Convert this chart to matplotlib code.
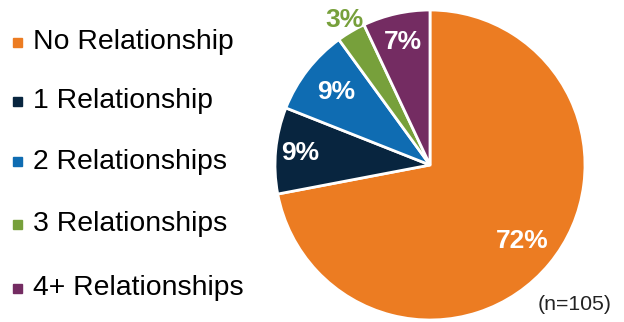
import numpy as np
import matplotlib
matplotlib.use("Agg")
import matplotlib.pyplot as plt

plt.rcParams["font.family"] = ["Liberation Sans", "DejaVu Sans"]

# ── Data ─────────────────────────────────────────────
categories = ["No Relationship", "1 Relationship", "2 Relationships",
              "3 Relationships", "4+ Relationships"]
shares     = [72, 9, 9, 3, 7]
colors     = ["#EC7C22", "#08253F", "#0F6CB2", "#77A03B", "#742C62"]
label_col  = ["white", "white", "white", "#77A03B", "white"]
label_rad  = [0.77, 0.84, 0.77, 1.09, 0.81]   # radial position of % labels
note       = "(n=105)"

W, H = 624, 322
fig = plt.figure(figsize=(W / 100, H / 100), dpi=100)

# pie axes: centre (430,165), radius 155 px
cx, cy, r = 430, 165, 155
ax = fig.add_axes([(cx - r) / W, (H - cy - r) / H, 2 * r / W, 2 * r / H])
wedges, _ = ax.pie(shares, colors=colors, startangle=90, counterclock=False,
                   radius=1, wedgeprops=dict(edgecolor="white", linewidth=2))
ax.set_xlim(-1, 1)
ax.set_ylim(-1, 1)
ax.axis("off")

for w, s, c, rr in zip(wedges, shares, label_col, label_rad):
    ang = np.deg2rad((w.theta1 + w.theta2) / 2)
    ax.text(rr * np.cos(ang), rr * np.sin(ang), f"{s}%", color=c,
            fontsize=19, fontweight="bold", ha="center", va="center")

# ── Legend (hand placed) ─────────────────────────────
row_y = [42, 101, 162, 224, 288]
for name, col, y in zip(categories, colors, row_y):
    fig.patches.append(plt.Rectangle((13 / W, 1 - (y + 4.5) / H), 9 / W, 9 / H,
                                     transform=fig.transFigure, color=col))
    fig.text(33 / W, 1 - y / H, name, fontsize=20.4, ha="left", va="center",
             color="black")

fig.text(612 / W, 1 - 304 / H, note, fontsize=15.3, ha="right", va="center",
         color="#222222")

fig.savefig("out.png", dpi=100)
